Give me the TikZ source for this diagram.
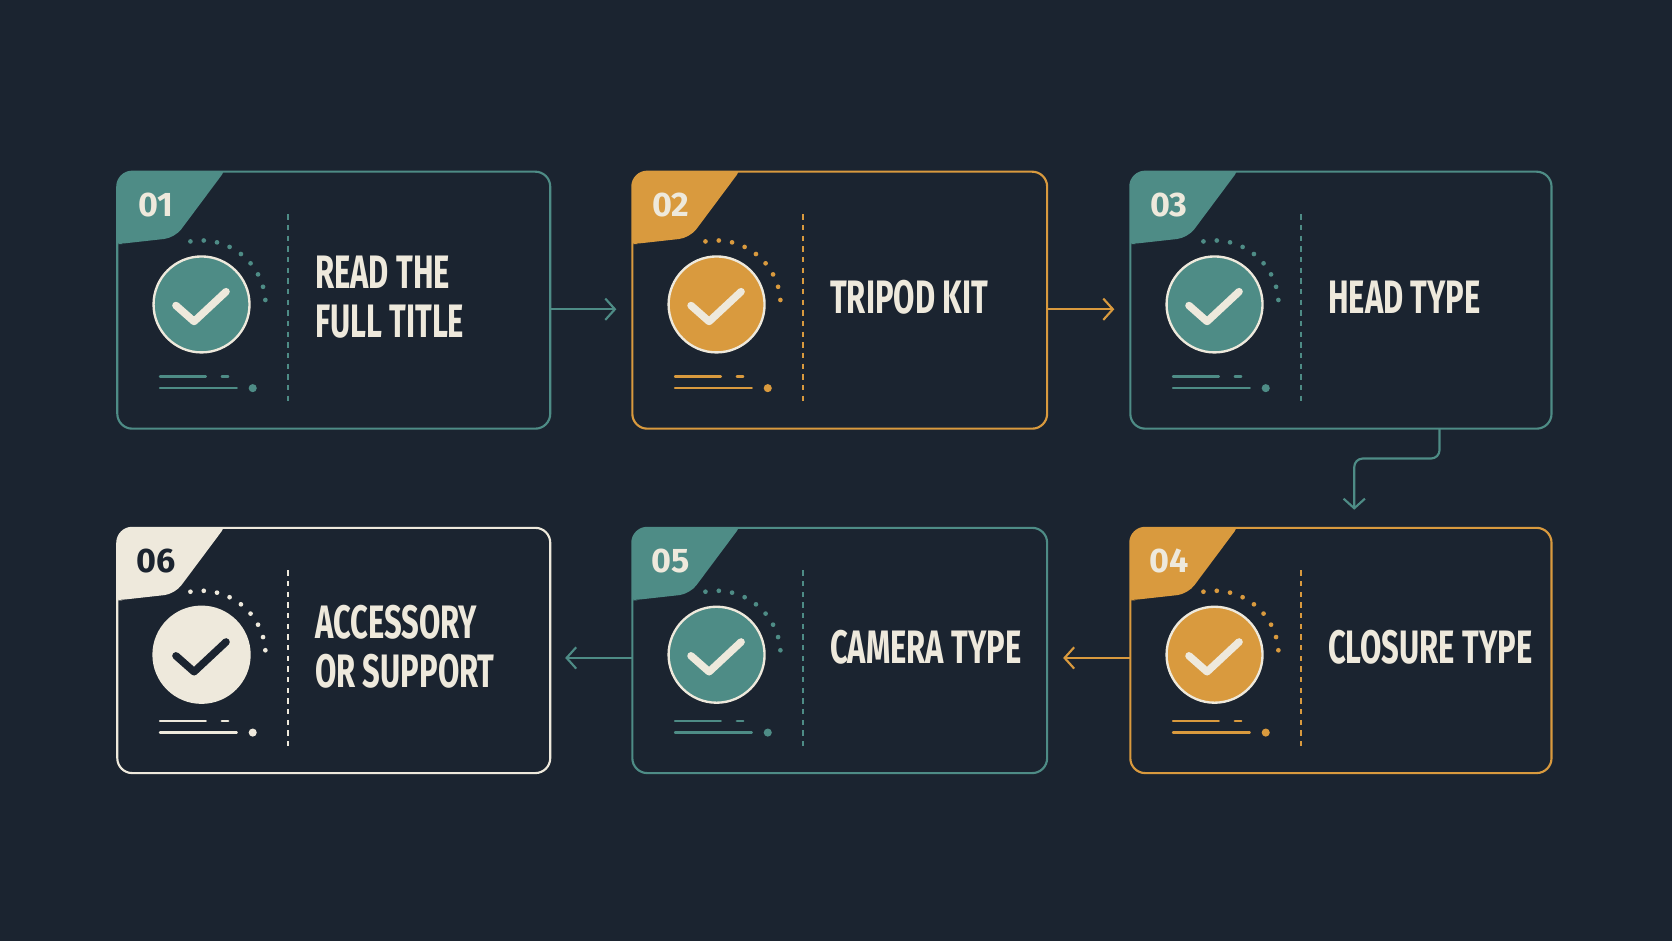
\documentclass[tikz,border=0pt]{standalone}
\usepackage{fontspec}
\setmainfont{Fira Sans}
\usetikzlibrary{arrows.meta,calc}
\definecolor{bg}{HTML}{1B2430}
\definecolor{teal}{HTML}{4E8C86}
\definecolor{orng}{HTML}{D99A3E}
\definecolor{crm}{HTML}{EEE9DC}
\tikzset{
 conn/.style={line width=2pt,-{Straight Barb[length=9pt,width=20pt,line width=2pt]}},
 lbl/.style={anchor=west,text=crm,font=\fontsize{44}{46}\selectfont\bfseries,align=left},
}
\newcommand\mycard[9]{% x y w h col num numcol text checkcol
 \begin{scope}[shift={(#1,#2)}]
  \begin{scope}
   \clip[rounded corners=14pt] (0,0) rectangle (#3,#4);
   \fill[#5,rounded corners=10pt] (-5,-5) -- (104,-5) -- (54,62) -- (0,68) -- (-5,68) -- cycle;
   \fill[#5] (-5,-5) rectangle (8,60);
  \end{scope}
  \draw[#5,line width=2pt,rounded corners=14pt] (0,0) rectangle (#3,#4);
  \node[text=#7,font=\fontsize{32}{32}\selectfont\bfseries] (n#6) at (36,31) {#6};
  \coordinate (cc#6) at (79,{#4/2+4});
  \fill[#9,draw=crm,line width=2.2pt] (cc#6) circle (45);
  \draw[#7,line width=7pt,line cap=round,line join=round] ($(cc#6)+(-24,1)$) -- ($(cc#6)+(-7,16)$) -- ($(cc#6)+(23,-12)$);
  \foreach \a in {0,12,...,96} \fill[#5] ($(cc#6)+({\a-100}:60)$) circle (2.2);
  \draw[#5,dash pattern=on 5pt off 5pt,line width=1.2pt] (160,40) -- (160,{#4-25});
  \draw[#5,line width=2.2pt,line cap=round] (40,{#4-49}) -- (83,{#4-49}) (98,{#4-49}) -- (104,{#4-49});
  \draw[#5,line width=2.2pt,line cap=round] (40,{#4-38}) -- (112,{#4-38});
  \fill[#5] (127,{#4-38}) circle (3.8);
  \node[lbl] (t#6) at (182,{#4/2+3}) {\scalebox{0.66}[1]{\begin{tabular}{@{}l@{}}#8\end{tabular}}};
 \end{scope}}
\begin{document}
\begin{tikzpicture}[x=1pt,y=-1pt]
\fill[bg] (0,0) rectangle (1568,882);
\useasboundingbox (0,0) rectangle (1568,882);
\mycard{110}{161}{406}{241}{teal}{01}{crm}{READ THE\\FULL TITLE}{teal}
\mycard{593}{161}{389}{241}{orng}{02}{crm}{TRIPOD KIT}{orng}
\mycard{1060}{161}{395}{241}{teal}{03}{crm}{HEAD TYPE}{teal}
\mycard{1060}{495}{395}{230}{orng}{04}{crm}{CLOSURE TYPE}{orng}
\mycard{593}{495}{389}{230}{teal}{05}{crm}{CAMERA TYPE}{teal}
\mycard{110}{495}{406}{230}{crm}{06}{bg}{ACCESSORY\\OR SUPPORT}{crm}
\coordinate (a1) at (516,290); \coordinate (a2) at (578,290);
\draw[conn,teal] (a1) -- (a2);
\coordinate (b1) at (982,290); \coordinate (b2) at (1045,290);
\draw[conn,orng] (b1) -- (b2);
\coordinate (c1) at (1350,402); \coordinate (c2) at (1270,478);
\draw[conn,teal,rounded corners=8pt] (c1) -- (1350,430) -- (1270,430) -- (c2);
\coordinate (d1) at (1060,617); \coordinate (d2) at (997,617);
\draw[conn,orng] (d1) -- (d2);
\coordinate (e1) at (593,617); \coordinate (e2) at (530,617);
\draw[conn,teal] (e1) -- (e2);
\end{tikzpicture}
\end{document}
